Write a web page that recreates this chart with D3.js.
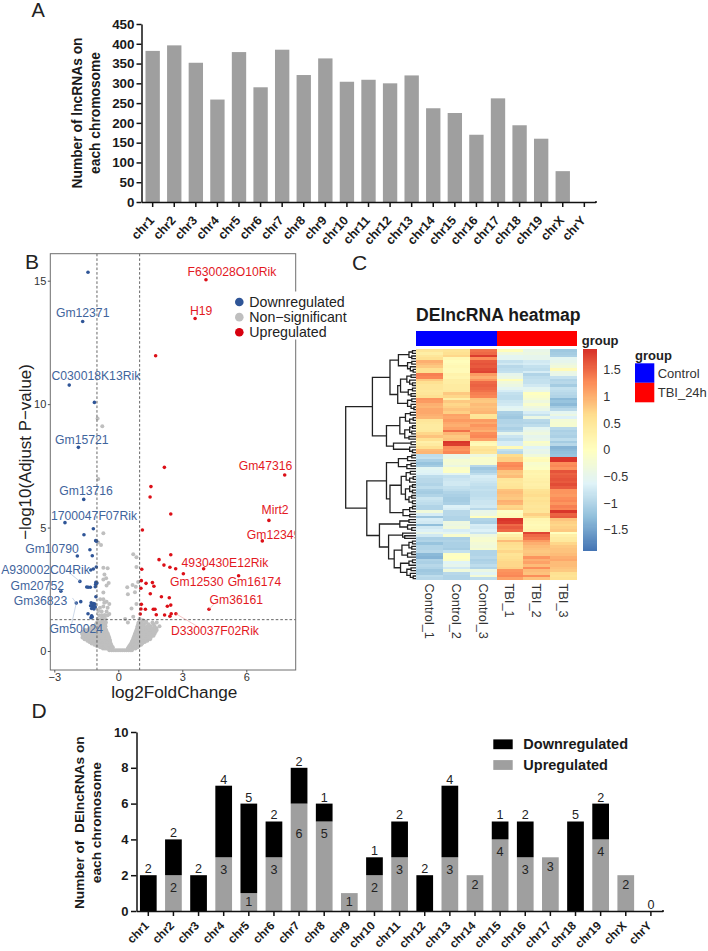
<!DOCTYPE html>
<html><head><meta charset="utf-8">
<script src="https://cdn.jsdelivr.net/npm/d3@7"></script>
<style>
html,body{margin:0;padding:0;background:#fff}
svg{display:block}
text{font-family:"Liberation Sans",Arial,sans-serif}
</style></head><body><svg id="c" width="708" height="951"></svg>
<script>
const chromosomes=["chr1","chr2","chr3","chr4","chr5","chr6","chr7","chr8","chr9","chr10","chr11","chr12","chr13","chr14","chr15","chr16","chr17","chr18","chr19","chrX","chrY"];
const lncCounts=[382,396,352,259,379,290,385,321,363,304,309,300,320,237,225,170,262,194,160,78,0];
const deUp=[0,2,0,3,1,3,6,5,1,2,3,0,3,2,4,3,3,0,4,2,0];
const deDown=[2,2,2,4,5,2,2,1,0,1,2,2,4,0,1,2,0,5,2,0,0];

const volcanoDown=[[-1.42,15.34],[-1.67,13.35],[-2.3,10.77],[-1.12,10.07],[-1.87,8.25],[-1.62,6.14],[-2.5,5.2],[-1.17,4.95],[-1.61,4.71],[-1.06,4.47],[-1.02,4.45],[-1.33,4.1],[-1.22,3.86],[-1.92,3.85],[-1.03,3.4],[-1.17,3.32],[-1.29,3.28],[-1.8,2.82],[-1.05,2.78],[-1.06,2.7],[-1,2.75],[-1.08,2.6],[-1.48,2.59],[-1.41,2.58],[-1.31,2.58],[-2.69,2.42],[-1.05,2.2],[-1.97,1.94],[-1.76,2],[-1.27,1.95],[-1.16,1.92],[-1.1,1.9],[-1.22,1.85],[-1.3,1.83],[-1.13,1.8],[-1.19,1.76],[-1.25,1.72],[-1.14,1.7],[-1.08,1.78],[-1.42,1.51],[-1.25,1.43],[-1.28,1.35],[-1.22,1.38]];
const volcanoUp=[[4.11,15.04],[3.6,13.47],[1.75,11.96],[2.16,7.44],[7.8,7.13],[1.53,6.66],[1.49,6.24],[2.46,5.55],[1.13,4.9],[7.06,5.29],[6.75,4.46],[2.46,3.9],[1.91,3.7],[2.14,3.48],[2.42,3.39],[2.69,3.33],[4,3.33],[3.05,3.13],[5.64,3.05],[1.1,3.31],[1.08,2.85],[1.3,2.74],[1.6,2.77],[1.67,2.62],[1.06,2.54],[1.5,2.32],[2.02,2.2],[2.39,2.16],[1.08,1.89],[1.06,1.7],[1.27,1.69],[1.64,1.69],[1.72,1.69],[2.3,1.81],[2.46,1.86],[4.25,1.69],[1.03,1.5],[1.78,1.47],[2.17,1.46],[2.42,1.41],[2.48,1.51],[2.7,1.51]];
const volcanoSparse=[[-.97,9.42],[-.75,9.1],[-.94,6.97],[-.7,4.77],[-.81,4.29],[-.94,4.4],[-.7,3.37],[-.5,3.35],[-.65,3.1],[-.57,2.95],[-.45,2.75],[-.7,2.9],[-.55,2.65],[.7,3.92],[.85,3.8],[.85,3.4],[.42,2.58],[.67,2.67],[.82,2.6],[.78,2.38],[.45,2.3],[.93,2.8],[-.7,2.37],[-.85,2.1],[-.7,2.1],[-.55,2],[-.42,1.9],[-.7,1.8],[-.55,1.6],[-.42,1.5],[-.78,1.6],[-.93,1.62],[.7,1.39],[1,1.3],[1.15,1.25],[.62,1.72],[.85,1.9],[1.3,1.2],[-.62,1.45],[-.74,1.38],[-.86,1.75],[-.5,1.75],[-.66,1.95]];
const volcanoRowYs=[.03,.1,.15,.2,.25,.3,.36,.42,.48,.55,.62,.7,.78,.85,.92,1,1.08,1.15,1.3,1.45];
const volcanoRowXs=[
[-.42,-.32,-.24,-.15,-.06,.03,.12,.21,.3,.39,.48,.56,.64],
[-.72,-.63,-.55,-.47,-.38,-.28,.45,.54,.62,.71,.8],
[-.85,-.76,-.68,-.6,-.51,-.43,-.34,-.26,.48,.57,.66,.74,.83,.9],
[-1,-.9,-.82,-.74,-.66,-.57,-.49,-.4,-.31,.52,.6,.69,.78,.86,.95],
[-1.12,-1.03,-.94,-.85,-.76,-.68,-.59,-.5,-.42,-.34,.56,.64,.73,.81,.9,.99,1.07],
[-1.25,-1.15,-1.06,-.97,-.88,-.79,-.7,-.62,-.53,-.44,-.36,.6,.68,.77,.85,.94,1.03,1.12],
[-1.35,-1.26,-1.17,-1.08,-.99,-.9,-.81,-.72,-.63,-.54,-.46,-.38,.63,.71,.8,.88,.97,1.06,1.15,1.24],
[-1.45,-1.36,-1.27,-1.18,-1.09,-1,-.91,-.82,-.73,-.64,-.55,-.46,-.39,.66,.74,.83,.91,1,1.09,1.18,1.27,1.36],
[-1.58,-1.48,-1.38,-1.29,-1.2,-1.11,-1.02,-.93,-.84,-.75,-.66,-.57,-.48,-.41,.69,.77,.86,.95,1.04,1.13,1.22,1.31,1.4,1.49],
[-1.68,-1.58,-1.49,-1.4,-1.31,-1.22,-1.13,-1.04,-.95,-.86,-.77,-.68,-.59,-.5,-.43,.72,.8,.89,.97,1.06,1.15,1.24,1.33,1.42,1.52],
[-1.66,-1.55,-1.45,-1.35,-1.25,-1.16,-1.07,-.98,-.89,-.8,-.71,-.62,-.53,-.46,.75,.83,.92,1,1.09,1.18,1.27,1.36,1.46,1.56,1.65],
[-1.7,-1.6,-1.5,-1.41,-1.3,-1.2,-1.1,-1.01,-.92,-.83,-.74,-.65,-.56,-.49,.78,.86,.95,1.04,1.13,1.22,1.31,1.4,1.5,1.6,1.7],
[-1.62,-1.48,-1.36,-1.24,-1.12,-1.02,-.92,-.82,-.72,-.63,-.54,.82,.9,.99,1.08,1.17,1.26,1.37,1.48,1.62,1.75],
[-1.55,-1.42,-1.3,-1.18,-1.06,-.95,-.85,-.75,-.66,-.57,.85,.93,1.02,1.11,1.2,1.3,1.42,1.55,1.68,1.8],
[-1.35,-1.22,-1.1,-1,-.9,-.8,-.71,-.62,.88,.97,1.06,1.16,1.28,1.44,1.6,1.78],
[-1.2,-1.08,-.98,-.88,-.78,-.69,-.6,.9,1,1.1,1.2,1.35,1.5,1.7,1.93],
[-1.05,-.92,-.82,-.72,-.62,.93,1.05,1.2,1.42,1.65],
[-1,-.88,-.78,-.68,-.58,.45,.95,1.1,1.3,1.6,1.8],
[-.96,-.82,-.7,-.6,.32],
[-.9,-.78,-.65,-.5]];
const volcanoLabelsDown=[["Gm12371",-1.67,13.7],["C030018K13Rik",-1.05,11.14],["Gm15721",-1.71,8.57],["Gm13716",-1.51,6.51],["1700047F07Rik",-1.14,5.47],["Gm10790",-3.11,4.14],["A930002C04Rik",-3.41,3.29],["Gm20752",-3.8,2.64],["Gm36823",-3.65,2.03],["Gm50024",-1.97,.9]];
const volcanoLabelsUp=[["F630028O10Rik",5.33,15.35],["H19",3.88,13.78],["Gm47316",6.9,7.52],["Mirt2",7.35,5.71],["Gm12349",7.28,4.71],["4930430E12Rik",5,3.58],["Gm12530",3.68,2.81],["Gm16174",6.38,2.81],["Gm36161",5.53,2.07],["D330037F02Rik",4.53,.84]];
const leadersDown=[[-2.3,3.17,-1.8,2.82],[-2.15,2.15,-1.97,1.94],[-2.2,1.05,-1.97,1.94],[-2.75,2.6,-2.69,2.42]];
const leadersUp=[[4.25,1.69,4.6,2.0],[2.7,1.51,3.7,1.0]];

const control1=[.5,.35,.5,.6,1,.9,.8,.6,.6,1.35,1.3,.8,.6,.5,.5,.45,.5,.6,1.2,1.15,1,.95,1.05,1.05,1,.95,.5,.45,.4,.4,.45,.7,.85,.6,.3,.4,.6,.9,.95,
-.9,-.85,-1.05,-1.2,-1.1,-.55,-.6,-.65,-.9,-.95,-.95,-1,-.9,-1.05,-1.1,-1,-.8,-.85,-.9,-1,-1,-.3,-.7,-1.15,-.7,-.75,-1.25,-.75,-.65,-.45,-.75,-1.05,-1,-1.2,-1,-1,-.95,-1.3,-1.35,-1,-1.05,-.95,-1,-1.15,-1.1,-.9,-.95];
const control2=[.55,.6,.7,.15,.05,.1,.15,.1,.1,.25,.2,.35,.35,.4,.4,.45,.8,.7,.35,.8,.7,.75,.85,.75,1.1,1.05,1.15,1.05,1,1.1,1.45,.95,.8,.85,1.85,1.8,1.25,1.2,1.3,
-.45,-.4,-.2,-.25,-.4,-.1,-.05,-.55,-.85,-.8,-.75,-.75,-.85,-.9,-1,-1.05,-1.1,-1.1,-1.05,-.65,-.7,-.95,-.95,-1,-1,-.35,-.4,-.3,-.7,-.55,-.15,-1.05,-1,-1.05,-1.05,-1.1,-.85,-.05,0,-.1,-.6,-.5,-.75,-.3,-.95,-1,-1];
const control3=[1.45,1.5,1.8,1.25,1.6,1.65,1.6,1.7,1.75,1.15,1,1.2,1.5,1.55,1.5,1.45,1.35,1.3,.85,.8,.9,.85,.9,.95,.5,.55,1.15,1.05,1.2,1.1,1,1.25,1.3,1.1,.2,.1,.5,.6,.5,
-.35,-.1,-.15,-.15,-.95,-1.15,-1.05,-.9,-.7,-.75,-.8,-.85,-.9,-.85,-.9,-.9,-.85,-.8,-.8,-.75,-.95,-.45,-.4,0,-1,-1.05,-.7,-.75,-.65,-.8,-.35,-.2,-.15,-.25,-.3,-.2,-1,-1,-.95,-1.05,-1,-.9,-1,-.4,-.6,-.25,-.9];
const tbi1=[.05,-.35,-.55,-.55,-.85,-.75,-.95,-.9,-.85,-.5,-.4,.05,-.3,-.4,-.55,-.7,-.85,-.9,-.9,-.8,-.75,-.6,-.55,-1.05,-1.1,-1.15,-1,-1,-.95,-1.05,-.95,-.5,-.8,-.9,-.7,-.7,.1,-.85,-.95,
.65,.75,.75,1.25,1.3,1.2,.85,.8,.9,.5,.45,.5,.55,.85,.9,.85,.8,1,.95,.7,.75,-.05,.05,.1,1.85,1.8,1.5,1.6,1.5,0,.3,.5,.9,.65,.6,.55,.7,.55,.6,.65,.7,.7,.75,1.2,1.25,1.3,1.1];
const tbi2=[-.45,-.4,-.5,-.5,-.75,-.7,-.85,-.9,-.7,-1,-.9,-.85,-.85,-.75,-.55,-.45,0,-.1,-.2,-.35,-.15,-.35,-.45,-.7,-.85,-.4,-.95,-1,-.9,-.55,-.45,-.35,-.5,-.45,-.1,-.2,-.6,-.45,-.5,
-.3,.05,.1,-.15,-.1,-.05,.25,.2,.25,.3,.35,.3,.35,.55,.6,.65,.55,.6,.55,.5,.55,.5,.75,.6,.2,.15,.1,.15,.2,1.75,1.5,1.4,1.15,1,.9,.85,.8,.85,1.2,1,1.1,.9,1.25,.9,.85,1.25,.85];
const tbi3=[-1.15,-1.1,-1.05,-.55,-.5,-.4,-.3,.1,-.4,-.45,-.85,-1,-.95,-1.1,-.85,-.9,-.95,-1,-1.3,-1.2,-1.3,-1.1,-.95,-.55,-.4,-.65,-.25,-.2,-.2,-.95,-1.05,-1,-1.05,-.9,-1.1,-.95,-1.35,-1.3,-1.25,
-1.2,1.85,1.85,1.25,1.3,1.2,1.65,1.55,1.6,1.65,1.6,1.7,1.6,1.2,1.2,1.15,1.25,1.3,1.2,1.35,1.3,1.85,1.55,1.6,.85,.75,.7,.75,.8,0,.3,.4,.45,.7,.8,.85,.85,.9,1,1.05,.9,.9,.85,.8,.6,.55,.6];
const heatColumns=["Control_1","Control_2","Control_3","TBI_1","TBI_2","TBI_3"];
const heatValues=[control1,control2,control3,tbi1,tbi2,tbi3];
const heatGroups=["Control","Control","Control","TBI_24h","TBI_24h","TBI_24h"];
const heatTicks=[1.5,1,.5,0,-.5,-1,-1.5];
const heatPalette=["#4575B4","#91BFDB","#E0F3F8","#FFFFBF","#FEE090","#FC8D59","#D73027"];
const heatMax=1.887;

// row dendrogram: [height, child, child]; 0 is a leaf
const treeUpperA=[2.5,[1,[.5,0,0],[.6,0,0]],[1.2,[.6,0,0],[.8,0,[.4,0,0]]]];
const treeUpperB=[2.6,[2.2,[1.3,[.7,0,0],[.9,0,[.5,0,0]]],[1.1,[.5,0,0],[.7,0,0]]],[1.2,[.6,0,0],[.7,0,[.3,0,0]]]];
const treeLowerA=[2.3,[1.5,[.8,0,0],[.9,[.4,0,0],0]],[1.6,[.9,[.5,0,0],[.6,0,0]],[1,0,0]]];
const treeLowerB=[3.2,[.7,0,0],[.9,0,[.5,0,0]]];
const treeB1=[2.5,[1.2,[.6,0,0],0],[1.3,[.7,0,0],0]];
const treeB2=[3.7,[2.1,[1.4,[.8,0,0],[.9,[.4,0,0],0]],[1.5,[.9,[.5,0,0],[.5,0,0]],[1,[.6,0,0],[.5,0,0]]]],[1.85,[.9,[.5,0,0],0],[.9,0,0]]];
const treeB3=[2.3,[1,0,0],[1.2,0,[.6,0,0]]];
const treeB4=[3.9,[1.9,0,[1.6,0,0]],[3.1,[2,[1,[.5,0,0],[.6,0,0]],[1.2,[.6,0,0],0]],[2.2,[1,[.5,0,0],0],[1.3,[.7,0,0],[.8,0,[.4,0,0]]]]]];
const rowTree=[10,[6.2,[3.7,treeUpperA,treeUpperB],[4.2,treeLowerA,treeLowerB]],[7,[4.2,treeB1,treeB2],[5.2,treeB3,treeB4]]];

const svg=d3.select("#c");
function letter(t,x,y,s){svg.append("text").attr("x",x).attr("y",y).attr("font-size",s||21).attr("fill","#222").text(t);}
letter("A",31.5,16.5,20);letter("B",25,269);letter("C",352,270);letter("D",31.5,718);

function styleBlackAxis(g,fs){
  g.selectAll("path.domain").attr("stroke","#111").attr("stroke-width",1.5);
  g.selectAll("line").attr("stroke","#111").attr("stroke-width",1.5);
  g.selectAll("text").attr("font-size",fs).attr("font-weight","bold").attr("fill","#1a1a1a").style("font-family",'"Liberation Sans",Arial,sans-serif');
}
function rotTicks(g,dx,dy,angle){
  g.selectAll("text").attr("text-anchor","end").attr("x",0).attr("y",0).attr("dy",".35em")
   .attr("transform",`translate(${dx},${dy}) rotate(${angle})`);
}
function twoLineTitle(lines,xs,cy,fs){
  lines.forEach((t,i)=>svg.append("text").attr("transform",`translate(${xs[i]},${cy}) rotate(-90)`).attr("text-anchor","middle").attr("dy",".35em")
    .attr("font-size",fs).attr("font-weight","bold").attr("fill","#1a1a1a").style("white-space","pre").text(t));
}

/* Panel A */
{
 const x=d3.scaleBand().domain(chromosomes).range([141.5,595.5]).paddingInner(.335).paddingOuter(.185);
 const y=d3.scaleLinear().domain([0,450]).range([202,24]);
 svg.append("g").selectAll("rect").data(chromosomes).join("rect")
  .attr("x",d=>x(d)).attr("width",x.bandwidth())
  .attr("y",(d,i)=>y(lncCounts[i])).attr("height",(d,i)=>y(0)-y(lncCounts[i])).attr("fill","#9f9f9f");
 const ay=svg.append("g").attr("transform","translate(141.5,0)").call(d3.axisLeft(y).ticks(9).tickSize(5).tickSizeOuter(0).tickPadding(2));
 styleBlackAxis(ay,13.4);
 const ax=svg.append("g").attr("transform","translate(0,202)").call(d3.axisBottom(x).tickSize(5).tickSizeOuter(0));
 styleBlackAxis(ax,12.5);rotTicks(ax,-1,16,-47);
 svg.append("line").attr("x1",595).attr("x2",597).attr("y1",202).attr("y2",202).attr("stroke","#111").attr("stroke-width",1.5);
 twoLineTitle(["Number of lncRNAs on","each chromosome"],[77.5,95],113,13.8);
}

/* Panel B */
{
 const x=d3.scaleLinear().domain([-3,6]).range([54.3,246.3]);
 const y=d3.scaleLinear().domain([0,15]).range([651,280.7]);
 const L=50.3,R=295.7,T=253.7,B=670;
 const defs=svg.append("defs");
 defs.append("clipPath").attr("id","vc").append("rect").attr("x",-10).attr("y",T).attr("width",R+9).attr("height",B-T);
 const rows=volcanoRowYs.flatMap((v,i)=>volcanoRowXs[i].map(u=>[u,v]));
 const ns=rows.concat(volcanoSparse);
 const g=svg.append("g");
 const dots=(data,c,r)=>g.append("g").selectAll("circle").data(data).join("circle").attr("cx",d=>x(d[0])).attr("cy",d=>y(d[1])).attr("r",r).attr("fill",c);
 dots(ns,"#bfbfbf",2);
 dots(volcanoDown,"#2f5597",1.8);
 dots(volcanoUp,"#dc0f17",1.8);
 [-1,1].forEach(v=>g.append("line").attr("x1",x(v)).attr("x2",x(v)).attr("y1",T).attr("y2",B).attr("stroke","#555").attr("stroke-width",.9).attr("stroke-dasharray","2.6,2"));
 g.append("line").attr("x1",L).attr("x2",R).attr("y1",y(1.27)).attr("y2",y(1.27)).attr("stroke","#555").attr("stroke-width",.9).attr("stroke-dasharray","2.6,2");
 const leaders=(data,c)=>g.append("g").selectAll("line").data(data).join("line").attr("x1",d=>x(d[0])).attr("y1",d=>y(d[1])).attr("x2",d=>x(d[2])).attr("y2",d=>y(d[3])).attr("stroke",c).attr("stroke-width",.6);
 leaders(leadersDown,"#a9bdd8");leaders(leadersUp,"#f0a0a0");
 const labs=svg.append("g").attr("clip-path","url(#vc)");
 const addLabels=(data,c)=>labs.append("g").selectAll("text").data(data).join("text").attr("x",d=>x(d[1])).attr("y",d=>y(d[2])).attr("text-anchor","middle").attr("dy",".35em").attr("font-size",12.2).attr("fill",c).text(d=>d[0]);
 addLabels(volcanoLabelsDown,"#3f649c");addLabels(volcanoLabelsUp,"#e3191f");
 svg.append("rect").attr("x",L).attr("y",T).attr("width",R-L).attr("height",B-T).attr("fill","none").attr("stroke","#6e6e6e").attr("stroke-width",1);
 svg.append("rect").attr("x",R-2).attr("y",291.5).attr("width",4).attr("height",48).attr("fill","#fff");
 const ax=svg.append("g").attr("transform",`translate(0,${B})`).call(d3.axisBottom(x).tickValues([-3,0,3,6]).tickFormat(d=>String(d).replace("-","\u2212")).tickSize(2.5).tickPadding(1));
 ax.select(".domain").remove();ax.selectAll("line").attr("stroke","#555");
 ax.selectAll("text").attr("font-size",11).attr("fill","#333");
 const ay=svg.append("g").attr("transform",`translate(${L},0)`).call(d3.axisLeft(y).tickValues([0,5,10,15]).tickSize(2.5).tickPadding(1.5));
 ay.select(".domain").remove();ay.selectAll("line").attr("stroke","#555");
 ay.selectAll("text").attr("font-size",11).attr("fill","#333");
 svg.append("text").attr("x",174.3).attr("y",691.5).attr("dy",".35em").attr("text-anchor","middle").attr("font-size",17.2).attr("fill","#222").text("log2FoldChange");
 svg.append("text").attr("transform","translate(25,452) rotate(-90)").attr("dy",".35em").attr("text-anchor","middle").attr("font-size",16.9).attr("fill","#222").text("\u2212log10(Adjust P\u2212value)");
 const leg=[["Downregulated","#2f5597"],["Non\u2212significant","#bfbfbf"],["Upregulated","#d7000f"]];
 const ly=d3.scalePoint().domain(leg.map(d=>d[0])).range([302,332.3]);
 leg.forEach(d=>{
  svg.append("circle").attr("cx",239.3).attr("cy",ly(d[0])).attr("r",4.3).attr("fill",d[1]);
  svg.append("text").attr("x",249.3).attr("y",ly(d[0])).attr("dy",".35em").attr("font-size",14.2).attr("fill","#222").text(d[0]);
 });
}

/* Panel C */
{
 const rowsIdx=d3.range(control1.length);
 const x=d3.scaleBand().domain(heatColumns).range([416,577]);
 const y=d3.scaleBand().domain(rowsIdx).range([349.3,580]);
 const stops=heatPalette.map((c,i)=>-heatMax+2*heatMax*i/(heatPalette.length-1));
 const color=d3.scaleLinear().domain(stops).range(heatPalette);
 const g=svg.append("g").attr("shape-rendering","crispEdges");
 heatColumns.forEach((c,j)=>{
  g.append("g").selectAll("rect").data(heatValues[j]).join("rect")
   .attr("x",x(c)).attr("width",x.bandwidth()+.3).attr("y",(d,i)=>y(i)).attr("height",y.bandwidth()+.3).attr("fill",d=>color(d));
 });
 const groupColor=d3.scaleOrdinal().domain(["Control","TBI_24h"]).range(["#0000ff","#ff0000"]);
 svg.append("g").attr("shape-rendering","crispEdges").selectAll("rect").data(heatColumns).join("rect")
  .attr("x",d=>x(d)).attr("width",x.bandwidth()+.3).attr("y",331.3).attr("height",14.4).attr("fill",(d,i)=>groupColor(heatGroups[i]));
 svg.append("text").attr("x",581.7).attr("y",340).attr("dy",".35em").attr("font-size",13).attr("font-weight","bold").attr("fill","#222").text("group");
 svg.append("text").attr("x",416).attr("y",315).attr("dy",".35em").attr("font-size",17.6).attr("font-weight","bold").attr("fill","#1a1a1a").text("DElncRNA heatmap");
 const cb=d3.scaleLinear().domain([-heatMax,heatMax]).range([550.7,349.3]);
 const cbv=d3.range(-heatMax,heatMax,.02);
 svg.append("g").attr("shape-rendering","crispEdges").selectAll("rect").data(cbv).join("rect")
  .attr("x",583.3).attr("width",14).attr("y",d=>cb(d+.02)).attr("height",d=>cb(d)-cb(d+.02)+.4).attr("fill",d=>color(d));
 svg.append("g").selectAll("text").data(heatTicks).join("text").attr("x",603.3).attr("y",d=>cb(d)).attr("dy",".35em")
  .attr("font-size",12.6).attr("fill","#333").text(d=>String(d).replace("-","\u2212"));
 svg.append("g").selectAll("text").data(heatColumns).join("text")
  .attr("transform",d=>`translate(${x(d)+x.bandwidth()/2},583.5) rotate(90)`).attr("dy",".35em").attr("font-size",12.8).attr("fill","#333").text(d=>d);
 const root=d3.hierarchy(rowTree,d=>Array.isArray(d)?d.slice(1):null);
 const hx=d3.scaleLinear().domain([0,10]).range([416,345.7]);
 let n=0;
 root.eachAfter(d=>{
  if(!d.children){d.py=y(n)+y.bandwidth()/2;n++;d.h=0;}
  else{d.py=(d.children[0].py+d.children[1].py)/2;d.h=d.data[0];}
 });
 const p=d3.path();
 root.each(d=>{
  if(d.children){
   const [a,b]=d.children;
   p.moveTo(hx(a.h),a.py);p.lineTo(hx(d.h),a.py);p.lineTo(hx(d.h),b.py);p.lineTo(hx(b.h),b.py);
  }
 });
 svg.append("path").attr("d",p.toString()).attr("fill","none").attr("stroke","#222").attr("stroke-width",1.3);
 svg.append("text").attr("x",635).attr("y",355.7).attr("dy",".35em").attr("font-size",13).attr("font-weight","bold").attr("fill","#222").text("group");
 const lg=d3.scaleBand().domain(groupColor.domain()).range([363.3,402.3]);
 svg.append("g").selectAll("rect").data(groupColor.domain()).join("rect").attr("x",635).attr("width",19.3).attr("y",d=>lg(d)).attr("height",lg.bandwidth()).attr("fill",d=>groupColor(d));
 svg.append("g").selectAll("text").data(groupColor.domain()).join("text").attr("x",657.7).attr("y",d=>lg(d)+lg.bandwidth()/2).attr("dy",".35em").attr("font-size",13).attr("fill","#333").text(d=>d);
}

/* Panel D */
{
 const x=d3.scaleBand().domain(chromosomes).range([136.5,662.7]).paddingInner(.335).paddingOuter(.137);
 const y=d3.scaleLinear().domain([0,10]).range([911,732]);
 const stack=d3.stack().keys(["up","down"])(chromosomes.map((c,i)=>({chr:c,up:deUp[i],down:deDown[i]})));
 const fills=["#9f9f9f","#000"];
 stack.forEach((s,k)=>{
  svg.append("g").selectAll("rect").data(s).join("rect")
   .attr("x",d=>x(d.data.chr)).attr("width",x.bandwidth())
   .attr("y",d=>y(d[1])).attr("height",d=>y(d[0])-y(d[1])).attr("fill",fills[k]);
 });
 const lab=svg.append("g").attr("font-size",12.6).attr("fill","#222").attr("text-anchor","middle");
 chromosomes.forEach((c,i)=>{
  const u=deUp[i],dn=deDown[i],cx=x(c)+x.bandwidth()/2;
  if(u>0){
   const drop=c==="chr7"?30:(u===1?8.5:(dn===0?9.5:12.5));
   lab.append("text").attr("x",cx).attr("y",y(u)+drop).attr("dy",".35em").text(u);
  }
  if(dn>0||u===0){
   lab.append("text").attr("x",cx).attr("y",y(u+dn)-6.5).attr("dy",".35em").text(dn);
  }
 });
 const ay=svg.append("g").attr("transform","translate(136.5,0)").call(d3.axisLeft(y).ticks(5).tickSize(5.5).tickSizeOuter(0).tickPadding(2.5));
 styleBlackAxis(ay,13);
 const ax=svg.append("g").attr("transform","translate(0,911)").call(d3.axisBottom(x).tickSize(5).tickSizeOuter(0));
 styleBlackAxis(ax,11.8);rotTicks(ax,-1.5,12.5,-45);
 svg.append("line").attr("x1",662).attr("x2",664).attr("y1",911).attr("y2",911).attr("stroke","#111").attr("stroke-width",1.5);
 twoLineTitle(["Number of  DElncRNAs on","each chromosome"],[79,96.7],822.7,13.7);
 const leg=[["Downregulated","#000"],["Upregulated","#9f9f9f"]];
 const ly=d3.scalePoint().domain(leg.map(d=>d[0])).range([744.3,765]);
 leg.forEach(d=>{
  svg.append("rect").attr("x",493.3).attr("y",ly(d[0])-4.9).attr("width",19.4).attr("height",9.8).attr("fill",d[1]);
  svg.append("text").attr("x",523.3).attr("y",ly(d[0])).attr("dy",".35em").attr("font-size",14.5).attr("font-weight","bold").attr("fill","#1a1a1a").text(d[0]);
 });
}
</script></body></html>
